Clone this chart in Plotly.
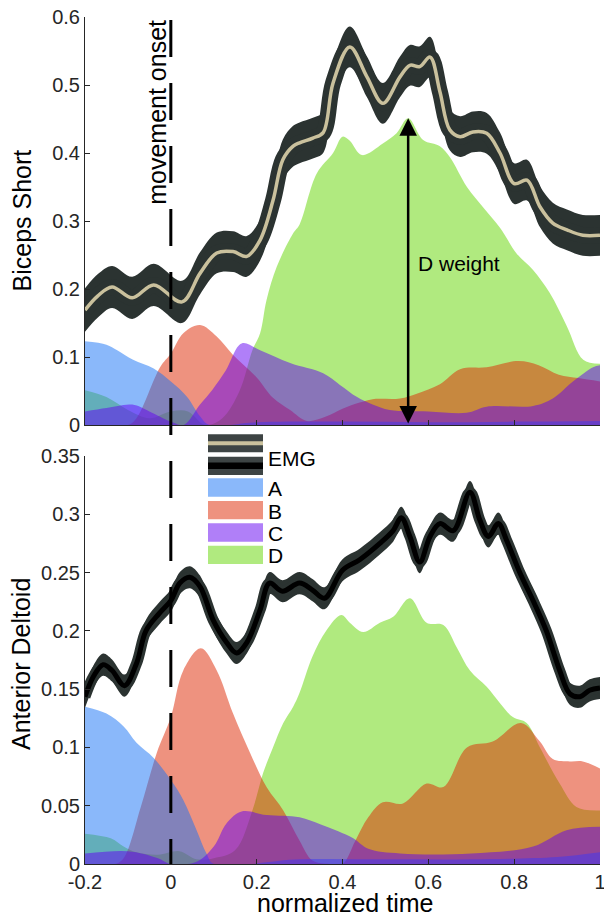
import plotly.graph_objects as go

# ---------------- data ----------------
x_ticks = [-0.2, 0, 0.2, 0.4, 0.6, 0.8, 1]
x_tick_labels = ["-0.2", "0", "0.2", "0.4", "0.6", "0.8", "1"]
y_top_ticks = [0, 0.1, 0.2, 0.3, 0.4, 0.5, 0.6]
y_top_labels = ["0", "0.1", "0.2", "0.3", "0.4", "0.5", "0.6"]
y_bot_ticks = [0, 0.05, 0.1, 0.15, 0.2, 0.25, 0.3, 0.35]
y_bot_labels = ["0", "0.05", "0.1", "0.15", "0.2", "0.25", "0.3", "0.35"]

# Biceps Short EMG (mean and spread)
emg_top_x = [-0.2, -0.17, -0.137, -0.09, -0.04, 0.026, 0.068, 0.107, 0.145, 0.177,
             0.208, 0.238, 0.261, 0.285, 0.30, 0.331, 0.355, 0.378, 0.417, 0.457,
             0.494, 0.534, 0.557, 0.58, 0.604, 0.627, 0.65, 0.674, 0.704, 0.736,
             0.767, 0.80, 0.83, 0.86, 0.89, 0.923, 0.96, 1.0]
emg_top_mean = [0.169, 0.19, 0.203, 0.187, 0.206, 0.181, 0.223, 0.253, 0.255, 0.248,
                0.272, 0.33, 0.39, 0.41, 0.415, 0.422, 0.43, 0.503, 0.556, 0.512,
                0.473, 0.512, 0.529, 0.527, 0.541, 0.49, 0.434, 0.424, 0.431, 0.429,
                0.4, 0.355, 0.36, 0.321, 0.297, 0.287, 0.279, 0.279]
emg_top_sd = [0.032, 0.032, 0.031, 0.031, 0.031, 0.031, 0.031, 0.030, 0.030, 0.030,
              0.030, 0.030, 0.030, 0.030, 0.030, 0.030, 0.030, 0.030, 0.030, 0.030,
              0.030, 0.030, 0.030, 0.030, 0.030, 0.030, 0.030, 0.030, 0.030, 0.030,
              0.030, 0.030, 0.030, 0.030, 0.030, 0.030, 0.030, 0.030]

# Anterior Deltoid EMG
emg_bot_x = [-0.2, -0.18, -0.158, -0.137, -0.108, -0.08, -0.058, -0.027, 0.0, 0.021,
             0.044, 0.068, 0.099, 0.13, 0.153, 0.177, 0.208, 0.23, 0.26, 0.30,
             0.33, 0.358, 0.40, 0.44, 0.487, 0.518, 0.537, 0.557, 0.58, 0.604,
             0.627, 0.658, 0.697, 0.72, 0.74, 0.763, 0.782, 0.813, 0.844, 0.875,
             0.906, 0.93, 0.953, 0.976, 1.0]
emg_bot_mean = [0.1435, 0.161, 0.171, 0.166, 0.153, 0.172, 0.2, 0.215, 0.226, 0.241,
                0.246, 0.238, 0.209, 0.19, 0.181, 0.19, 0.218, 0.241, 0.234, 0.241,
                0.235, 0.228, 0.252, 0.261, 0.275, 0.286, 0.297, 0.281, 0.259, 0.281,
                0.292, 0.286, 0.319, 0.295, 0.281, 0.292, 0.278, 0.25, 0.226, 0.2,
                0.166, 0.146, 0.1435, 0.149, 0.151]
emg_bot_sd = [0.0095, 0.0095, 0.0095, 0.0095, 0.0095, 0.0095, 0.0095, 0.0095, 0.0095, 0.0095,
              0.0095, 0.0095, 0.0095, 0.0095, 0.0095, 0.0095, 0.0095, 0.0095, 0.0095, 0.0095,
              0.0095, 0.0095, 0.0095, 0.0095, 0.0095, 0.0095, 0.0095, 0.0095, 0.0095, 0.0095,
              0.0095, 0.0095, 0.0095, 0.0095, 0.0095, 0.0095, 0.0095, 0.0095, 0.0095, 0.0095,
              0.0095, 0.0095, 0.0095, 0.0095, 0.0095]

# Synergy contributions, Biceps Short
A_top_x = [-0.2, -0.15, -0.125, -0.088, -0.04, 0.0, 0.037, 0.068, 0.09, 0.2, 0.4, 0.6, 0.8, 1.0]
A_top = [0.123, 0.118, 0.11, 0.096, 0.083, 0.064, 0.042, 0.013, 0.0, 0.004, 0.005, 0.004, 0.005, 0.006]

B_top_x = [-0.2, -0.1, -0.08, -0.025, 0.0, 0.029, 0.068, 0.107, 0.145, 0.2,
           0.238, 0.278, 0.317, 0.36, 0.40, 0.44, 0.47, 0.534, 0.573, 0.627,
           0.674, 0.736, 0.81, 0.857, 0.904, 0.95, 1.0]
B_top = [0.0, 0.0, 0.01, 0.085, 0.105, 0.135, 0.147, 0.13, 0.103, 0.07,
         0.04, 0.022, 0.006, 0.012, 0.024, 0.033, 0.038, 0.039, 0.046, 0.06,
         0.082, 0.085, 0.094, 0.088, 0.074, 0.069, 0.064]

C_top_x = [-0.2, -0.15, -0.09, -0.05, 0.0, 0.03, 0.068, 0.097, 0.128, 0.165,
           0.208, 0.278, 0.355, 0.394, 0.434, 0.47, 0.51, 0.6, 0.689, 0.736,
           0.844, 0.89, 0.937, 0.984, 1.0]
C_top = [0.02, 0.025, 0.03, 0.02, 0.005, 0.0, 0.03, 0.052, 0.08, 0.12,
         0.11, 0.091, 0.076, 0.059, 0.041, 0.03, 0.022, 0.02, 0.018, 0.027,
         0.028, 0.039, 0.064, 0.085, 0.088]

D_top_x = [-0.2, -0.15, -0.1, -0.05, 0.0, 0.04, 0.08, 0.12, 0.16, 0.19,
           0.208, 0.223, 0.247, 0.285, 0.30, 0.34, 0.378, 0.40, 0.417, 0.445,
           0.494, 0.526, 0.553, 0.588, 0.627, 0.65, 0.69, 0.728, 0.767, 0.806,
           0.844, 0.883, 0.923, 0.961, 1.0]
D_top = [0.051, 0.041, 0.022, 0.01, 0.02, 0.02, 0.0, 0.01, 0.05, 0.11,
         0.135, 0.184, 0.233, 0.282, 0.295, 0.37, 0.4, 0.424, 0.418, 0.397,
         0.414, 0.429, 0.451, 0.419, 0.41, 0.394, 0.35, 0.32, 0.29, 0.252,
         0.228, 0.194, 0.145, 0.096, 0.09]

# Synergy contributions, Anterior Deltoid
A_bot_x = [-0.2, -0.15, -0.11, -0.08, -0.04, 0.0, 0.029, 0.06, 0.083, 0.1, 0.3, 0.5, 0.7, 0.9, 1.0]
A_bot = [0.135, 0.129, 0.118, 0.104, 0.091, 0.072, 0.055, 0.029, 0.009, 0.0, 0.004, 0.004, 0.004, 0.006, 0.01]

B_bot_x = [-0.2, -0.13, -0.11, -0.07, -0.033, 0.0, 0.029, 0.07, 0.107, 0.145,
           0.185, 0.223, 0.262, 0.30, 0.33, 0.37, 0.40, 0.43, 0.46, 0.494,
           0.541, 0.596, 0.635, 0.69, 0.75, 0.816, 0.86, 0.89, 0.93, 0.96, 1.0]
B_bot = [0.0, 0.0, 0.005, 0.049, 0.095, 0.126, 0.166, 0.185, 0.166, 0.129,
         0.095, 0.066, 0.046, 0.02, 0.003, 0.0, 0.0, 0.02, 0.04, 0.053,
         0.052, 0.069, 0.066, 0.1, 0.105, 0.121, 0.105, 0.09, 0.088, 0.088, 0.082]

C_bot_x = [-0.2, -0.1, -0.03, 0.0, 0.06, 0.1, 0.13, 0.165, 0.223, 0.30,
           0.348, 0.39, 0.425, 0.46, 0.534, 0.7, 0.844, 0.922, 1.0]
C_bot = [0.009, 0.011, 0.005, 0.0, 0.002, 0.015, 0.035, 0.045, 0.042, 0.04,
         0.034, 0.028, 0.022, 0.013, 0.009, 0.009, 0.015, 0.029, 0.032]

D_bot_x = [-0.2, -0.14, -0.11, -0.08, -0.03, 0.02, 0.06, 0.1, 0.15, 0.19,
           0.215, 0.238, 0.262, 0.285, 0.30, 0.33, 0.362, 0.397, 0.417, 0.448,
           0.487, 0.518, 0.557, 0.596, 0.635, 0.666, 0.697, 0.736, 0.767, 0.797,
           0.829, 0.86, 0.906, 0.945, 1.0]
D_bot = [0.026, 0.022, 0.015, 0.01, 0.008, 0.011, 0.004, 0.005, 0.012, 0.046,
         0.078, 0.1, 0.121, 0.135, 0.147, 0.178, 0.2, 0.2135, 0.207, 0.199,
         0.207, 0.212, 0.228, 0.207, 0.205, 0.186, 0.166, 0.152, 0.138, 0.126,
         0.121, 0.1, 0.069, 0.049, 0.046]

onset_x = 0
d_weight_x = 0.553
d_weight_y = 0.451

synergy_names = ["A", "B", "C", "D"]

# ---------------- style ----------------
FONT = "Liberation Sans, Arial, sans-serif"
COL = {
    "A": "rgba(21,113,245,0.5)",
    "B": "rgba(221,37,0,0.5)",
    "C": "rgba(97,0,241,0.5)",
    "D": "rgba(97,213,0,0.5)",
}
BAND = "#2b3331"
BEIGE = "#cac19d"
AX = "#262626"

W, H = 604, 916
L, R, T, B = 85, 4, 17, 52
PW, PH = W - L - R, H - T - B


def px2x(px):
    return (px - L) / PW


def py2y(py):
    return (H - B - py) / PH


fig = go.Figure()


def add_area(x, y, color, xa, ya):
    fig.add_trace(go.Scatter(x=x, y=y, mode="lines", fill="tozeroy",
                             fillcolor=color, line=dict(width=0, shape="spline", smoothing=1.0),
                             xaxis=xa, yaxis=ya, hoverinfo="skip", showlegend=False))


def add_emg(x, mean, sd, core_color, core_w, band_line_w, xa, ya):
    up = [m + s for m, s in zip(mean, sd)]
    lo = [m - s for m, s in zip(mean, sd)]
    fig.add_trace(go.Scatter(x=x, y=up, mode="lines", line=dict(width=0, shape="spline"),
                             xaxis=xa, yaxis=ya, hoverinfo="skip", showlegend=False))
    fig.add_trace(go.Scatter(x=x, y=lo, mode="lines", fill="tonexty", fillcolor=BAND,
                             line=dict(width=0, shape="spline"),
                             xaxis=xa, yaxis=ya, hoverinfo="skip", showlegend=False))
    fig.add_trace(go.Scatter(x=x, y=mean, mode="lines",
                             line=dict(width=band_line_w, color=BAND, shape="spline"),
                             xaxis=xa, yaxis=ya, hoverinfo="skip", showlegend=False))
    fig.add_trace(go.Scatter(x=x, y=mean, mode="lines",
                             line=dict(width=core_w, color=core_color, shape="spline"),
                             xaxis=xa, yaxis=ya, hoverinfo="skip", showlegend=False))


# top panel: draw order D, B, A, C
add_area(D_top_x, D_top, COL["D"], "x", "y")
add_area(B_top_x, B_top, COL["B"], "x", "y")
add_area(A_top_x, A_top, COL["A"], "x", "y")
add_area(C_top_x, C_top, COL["C"], "x", "y")
add_emg(emg_top_x, emg_top_mean, emg_top_sd, BEIGE, 3.5, 16, "x", "y")

# bottom panel
add_area(D_bot_x, D_bot, COL["D"], "x2", "y2")
add_area(B_bot_x, B_bot, COL["B"], "x2", "y2")
add_area(A_bot_x, A_bot, COL["A"], "x2", "y2")
add_area(C_bot_x, C_bot, COL["C"], "x2", "y2")
add_emg(emg_bot_x, emg_bot_mean, emg_bot_sd, "#000000", 5, 11, "x2", "y2")

axis_common = dict(showline=True, linecolor=AX, linewidth=1, ticks="inside", ticklen=5,
                   tickwidth=1, tickcolor=AX, showgrid=False, zeroline=False,
                   automargin=False, ticklabeloverflow="allow",
                   tickfont=dict(family=FONT, size=20, color=AX))

top_bottom_edge = py2y(425)
bot_top_edge = py2y(456)

fig.update_layout(
    width=W, height=H,
    margin=dict(l=L, r=R, t=T, b=B, autoexpand=False),
    paper_bgcolor="white", plot_bgcolor="rgba(0,0,0,0)",
    showlegend=False,
    font=dict(family=FONT, color="black"),
    xaxis=dict(domain=[0, 1], range=[-0.2, 1], anchor="y", tickvals=x_ticks,
               ticktext=x_tick_labels, showticklabels=False, **axis_common),
    yaxis=dict(domain=[top_bottom_edge, 1], range=[0, 0.6], anchor="x",
               tickvals=y_top_ticks, ticktext=y_top_labels, **axis_common),
    xaxis2=dict(domain=[0, 1], range=[-0.2, 1], anchor="y2", tickvals=x_ticks,
                ticktext=x_tick_labels, **axis_common),
    yaxis2=dict(domain=[0, bot_top_edge], range=[0, 0.35], anchor="x2",
                tickvals=y_bot_ticks, ticktext=y_bot_labels, **axis_common),
)

shapes = []
# movement onset dashed line spanning both panels
shapes.append(dict(type="line", xref="x", yref="paper", x0=onset_x, x1=onset_x,
                   y0=py2y(20), y1=0, line=dict(color="black", width=3, dash="37px,26px"),
                   layer="above"))

# manual legend
lx0, lx1 = px2x(208), px2x(263)
shapes.append(dict(type="rect", xref="paper", yref="paper", x0=lx0, x1=lx1,
                   y0=py2y(452.3), y1=py2y(434.3), fillcolor="#3d4444", line=dict(width=0),
                   layer="above"))
shapes.append(dict(type="rect", xref="paper", yref="paper", x0=lx0, x1=lx1,
                   y0=py2y(445.3), y1=py2y(441.3), fillcolor=BEIGE, line=dict(width=0),
                   layer="above"))
shapes.append(dict(type="rect", xref="paper", yref="paper", x0=lx0, x1=lx1,
                   y0=py2y(475), y1=py2y(456.7), fillcolor="#3d4444", line=dict(width=0),
                   layer="above"))
shapes.append(dict(type="rect", xref="paper", yref="paper", x0=lx0, x1=lx1,
                   y0=py2y(469), y1=py2y(462.5), fillcolor="#000000", line=dict(width=0),
                   layer="above"))
legend_rows = [(478.3, 496.7), (501.0, 519.3), (523.3, 541.7), (545.7, 564.0)]
annotations = []
for name, (ya0, ya1) in zip(synergy_names, legend_rows):
    shapes.append(dict(type="rect", xref="paper", yref="paper", x0=lx0, x1=lx1,
                       y0=py2y(ya1), y1=py2y(ya0), fillcolor="white", line=dict(width=0),
                       layer="above"))
    shapes.append(dict(type="rect", xref="paper", yref="paper", x0=lx0, x1=lx1,
                       y0=py2y(ya1), y1=py2y(ya0), fillcolor=COL[name], line=dict(width=0),
                       layer="above"))
    annotations.append(dict(text=name, xref="paper", yref="paper", x=px2x(266),
                            y=py2y((ya0 + ya1) / 2 + 1), xanchor="left", yanchor="middle",
                            showarrow=False, font=dict(family=FONT, size=21, color="black")))
annotations.append(dict(text="EMG", xref="paper", yref="paper", x=px2x(266), y=py2y(458),
                        xanchor="left", yanchor="middle", showarrow=False,
                        font=dict(family=FONT, size=21, color="black")))

# titles
annotations.append(dict(text="Biceps Short", xref="paper", yref="paper", x=px2x(21.5),
                        y=py2y(221), textangle=-90, xanchor="center", yanchor="middle",
                        showarrow=False, font=dict(family=FONT, size=25, color="black")))
annotations.append(dict(text="Anterior Deltoid", xref="paper", yref="paper", x=px2x(21),
                        y=py2y(664), textangle=-90, xanchor="center", yanchor="middle",
                        showarrow=False, font=dict(family=FONT, size=25, color="black")))
annotations.append(dict(text="normalized time", xref="paper", yref="paper", x=px2x(345),
                        y=py2y(903), xanchor="center", yanchor="middle", showarrow=False,
                        font=dict(family=FONT, size=25, color="black")))
annotations.append(dict(text="movement onset", xref="x", yref="paper", x=onset_x,
                        y=py2y(112), textangle=-90, xanchor="right", yanchor="middle",
                        xshift=2, showarrow=False,
                        font=dict(family=FONT, size=25, color="black")))
# D weight arrow
annotations.append(dict(text="", xref="x", yref="y", x=d_weight_x, y=d_weight_y,
                        axref="x", ayref="y", ax=d_weight_x, ay=0,
                        showarrow=True, arrowhead=2, arrowside="end+start",
                        arrowsize=1.4, arrowwidth=2.5, arrowcolor="black"))
annotations.append(dict(text="D weight", xref="paper", yref="paper", x=px2x(416),
                        y=py2y(263), xanchor="left", yanchor="middle", showarrow=False,
                        font=dict(family=FONT, size=21, color="black")))

fig.update_layout(shapes=shapes, annotations=annotations)

fig.write_html("out.html", config={"displayModeBar": False},
               post_script="document.body.style.margin='0px';document.body.style.overflow='hidden';")
